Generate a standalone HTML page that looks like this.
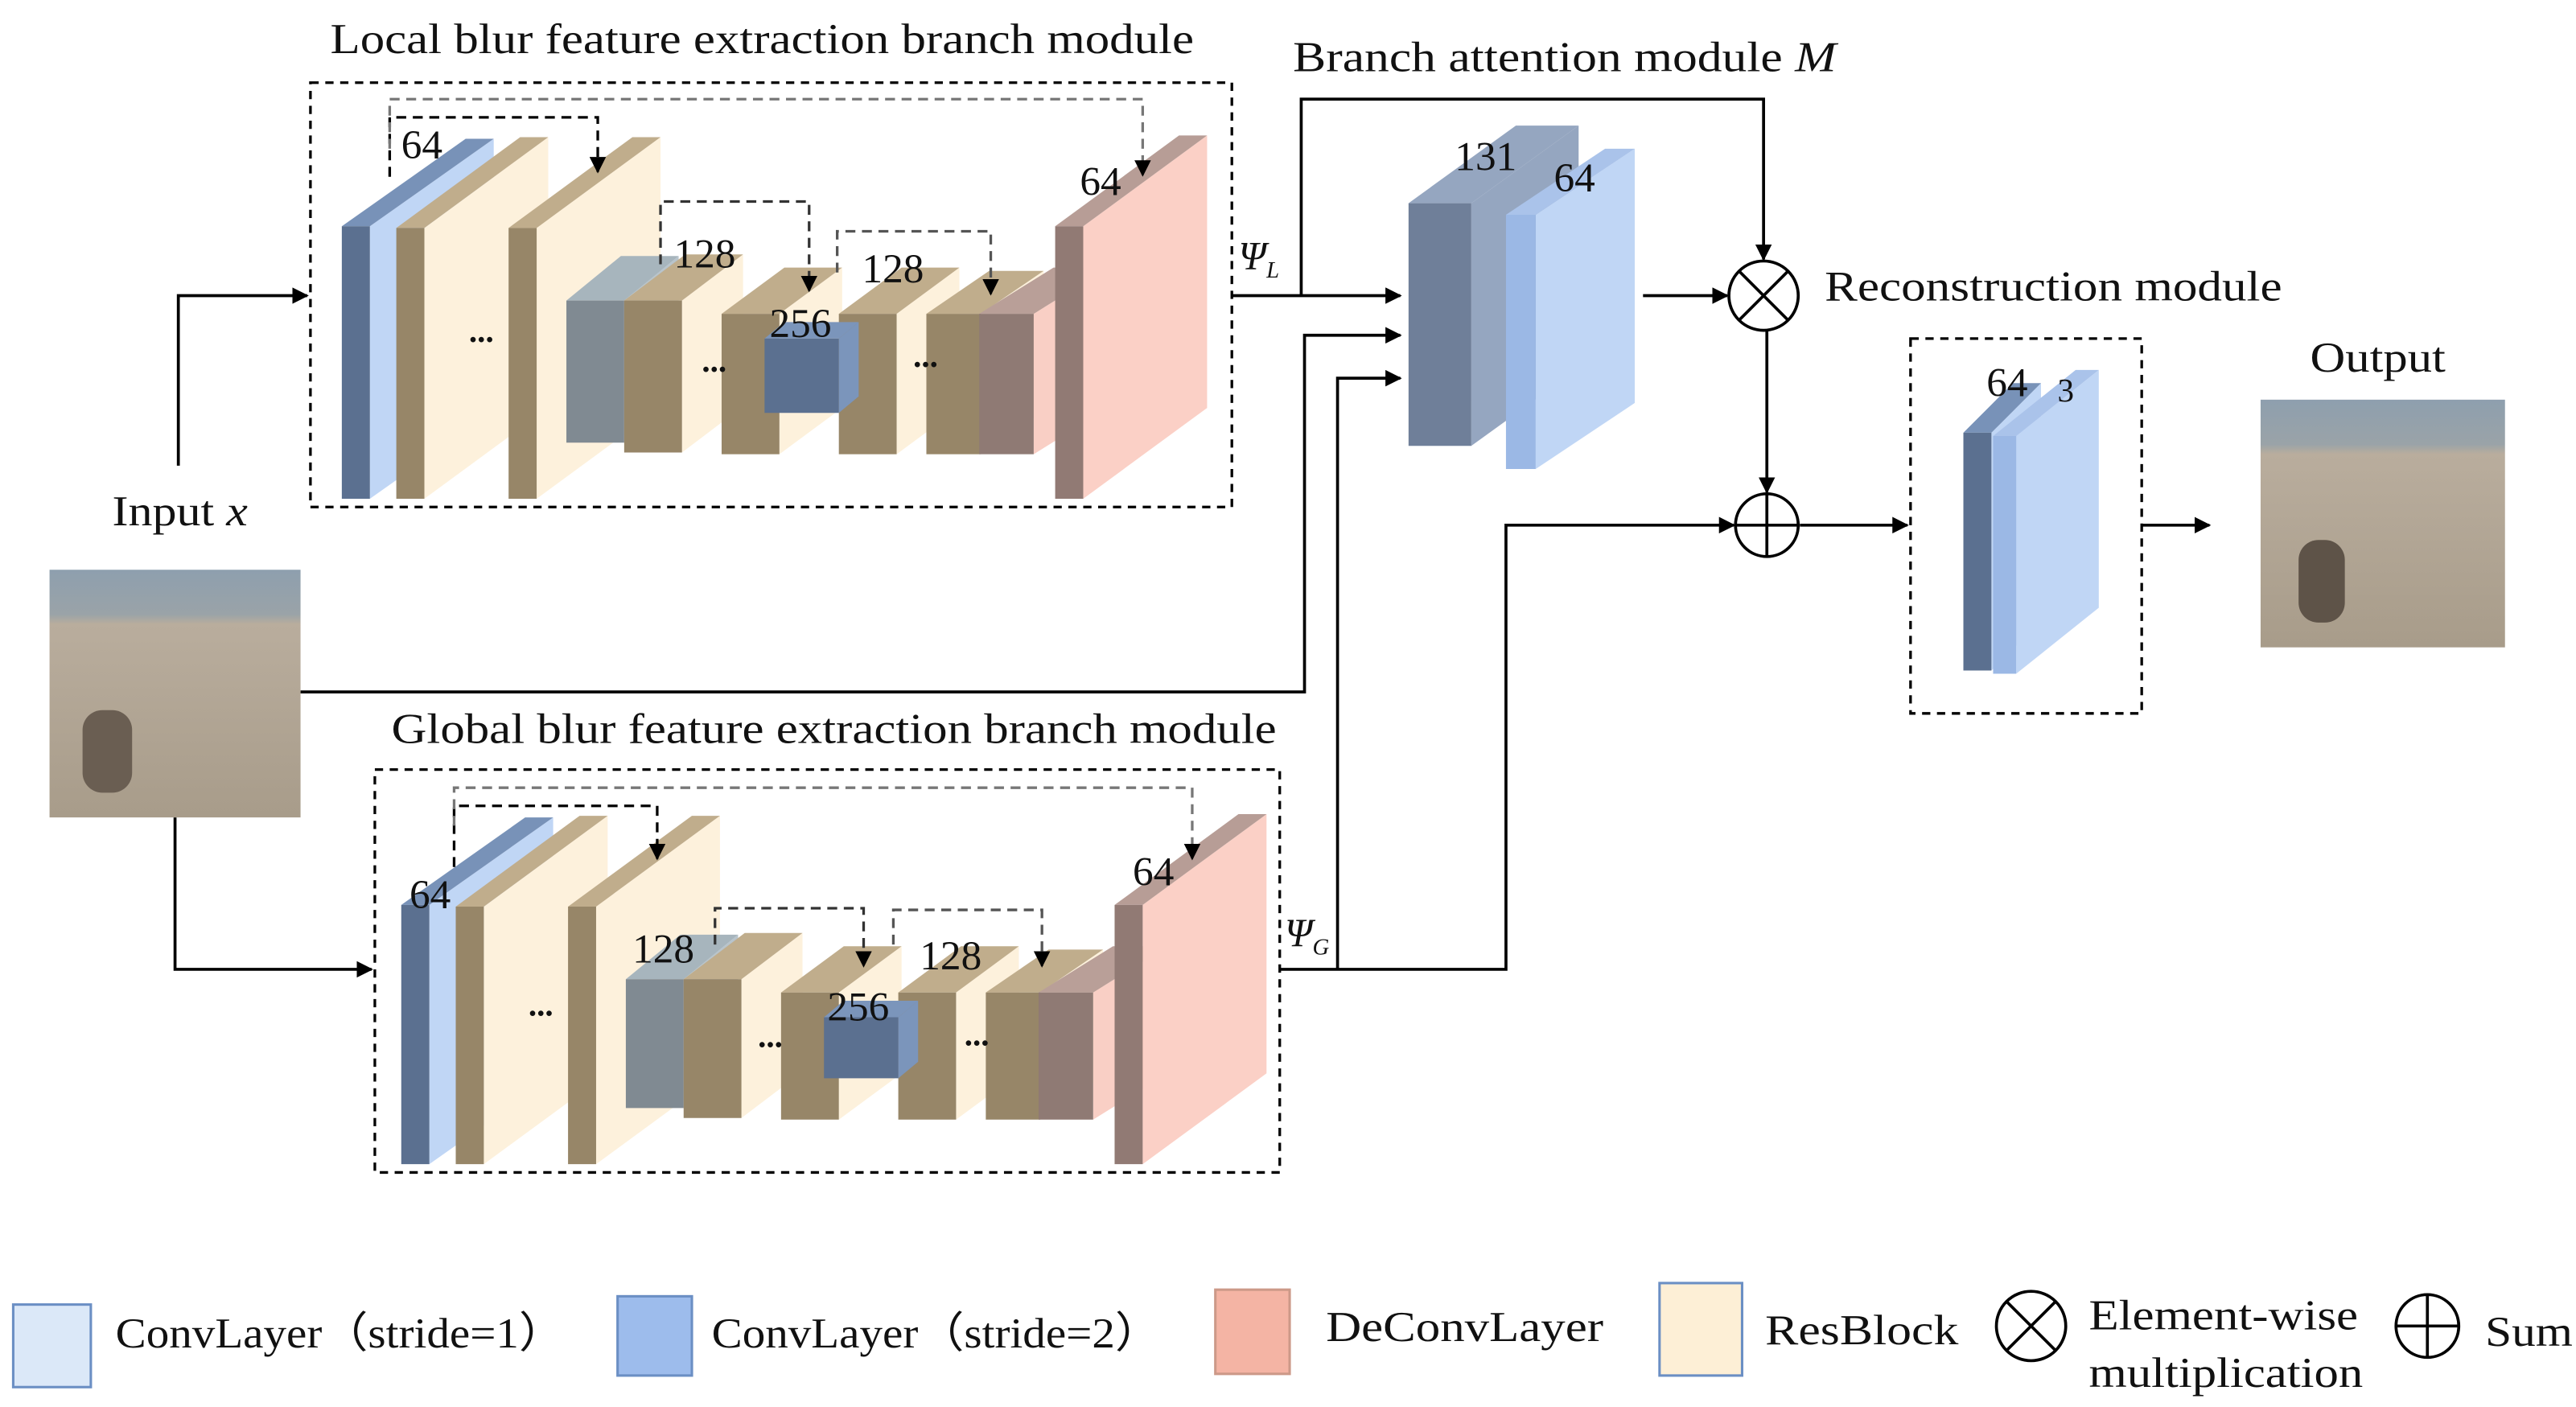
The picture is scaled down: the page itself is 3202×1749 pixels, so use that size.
<!DOCTYPE html>
<html><head><meta charset="utf-8"><style>
html,body{margin:0;padding:0;background:#fff;}
svg{display:block;}
text{font-family:"Liberation Serif",serif;fill:#111;}
</style></head><body>
<svg id="s" xmlns="http://www.w3.org/2000/svg" width="3202" height="1749" viewBox="0 0 1560 852">
<defs>
<marker id="a" markerWidth="10" markerHeight="10" refX="9" refY="5" orient="auto" markerUnits="userSpaceOnUse"><path d="M0,0 L10,5 L0,10 z" fill="#000"/></marker>
<linearGradient id="img" x1="0" y1="0" x2="0" y2="1">
<stop offset="0" stop-color="#8e9fae"/><stop offset="0.18" stop-color="#9aa3a8"/><stop offset="0.22" stop-color="#b9ad9d"/><stop offset="1" stop-color="#a89c8a"/></linearGradient>
</defs>
<g id="blocks"></g>
<g fill="none" stroke="#000" stroke-width="1.6" stroke-dasharray="5,4">
<rect x="188" y="50" width="558" height="257"/>
<rect x="227" y="466" width="548" height="244"/>
<rect x="1157" y="205" width="140" height="227"/>
</g>
<g fill="none" stroke-width="1.6" stroke-dasharray="6,4">
<path d="M236,107 V71 H362 V104" stroke="#000" marker-end="url(#a)"/>
<path d="M236,90 V60 H692 V106" stroke="#777" marker-end="url(#a)"/>
<path d="M400,160 V122 H490 V176" stroke="#333" marker-end="url(#a)"/>
<path d="M507,165 V140 H600 V178" stroke="#555" marker-end="url(#a)"/>
<path d="M275,525 V488 H398 V520" stroke="#000" marker-end="url(#a)"/>
<path d="M275,500 V477 H722 V520" stroke="#777" marker-end="url(#a)"/>
<path d="M433,572 V550 H523 V585" stroke="#333" marker-end="url(#a)"/>
<path d="M541,572 V551 H631 V585" stroke="#555" marker-end="url(#a)"/>
</g>
<g fill="none" stroke="#000" stroke-width="1.8">
<path d="M108,282 V179 H186" marker-end="url(#a)"/>
<path d="M106,495 V587 H225" marker-end="url(#a)"/>
<path d="M182,419 H790 V203 H848" marker-end="url(#a)"/>
<path d="M746,179 H848" marker-end="url(#a)"/>
<path d="M788,179 V60 H1068 V157" marker-end="url(#a)"/>
<path d="M775,587 H912 V318 H1050" marker-end="url(#a)"/>
<path d="M810,587 V229 H848" marker-end="url(#a)"/>
<path d="M995,179 H1046" marker-end="url(#a)"/>
<path d="M1070,200 V298" marker-end="url(#a)"/>
<path d="M1090,318 H1155" marker-end="url(#a)"/>
<path d="M1297,318 H1338" marker-end="url(#a)"/>
<circle cx="1068" cy="179" r="21"/><path d="M1053,164 L1083,194 M1083,164 L1053,194"/>
<circle cx="1070" cy="318" r="19"/><path d="M1051,318 H1089 M1070,299 V337"/>
<circle cx="1230" cy="803" r="21"/><path d="M1215,788 L1245,818 M1245,788 L1215,818"/>
<circle cx="1470" cy="803" r="19"/><path d="M1451,803 H1489 M1470,784 V822"/>
</g>
<g>
<rect x="30" y="345" width="152" height="150" fill="url(#img)"/>
<rect x="50" y="430" width="30" height="50" rx="12" fill="#6a5e52"/>
<rect x="1369" y="242" width="148" height="150" fill="url(#img)"/>
<rect x="1392" y="327" width="28" height="50" rx="12" fill="#5e5348"/>
</g>
<g font-size="26">
<text x="200" y="32" textLength="523" lengthAdjust="spacingAndGlyphs">Local blur feature extraction branch module</text>
<text x="783" y="43" textLength="329" lengthAdjust="spacingAndGlyphs">Branch attention module <tspan font-style="italic">M</tspan></text>
<text x="1105" y="182" textLength="277" lengthAdjust="spacingAndGlyphs">Reconstruction module</text>
<text x="1399" y="225" textLength="82" lengthAdjust="spacingAndGlyphs">Output</text>
<text x="68" y="318" textLength="82" lengthAdjust="spacingAndGlyphs">Input <tspan font-style="italic">x</tspan></text>
<text x="237" y="450" textLength="536" lengthAdjust="spacingAndGlyphs">Global blur feature extraction branch module</text>
<g font-size="25">
<text x="243" y="96">64</text><text x="408" y="162">128</text><text x="466" y="204">256</text><text x="522" y="171">128</text><text x="654" y="118">64</text>
<text x="248" y="550">64</text><text x="383" y="583">128</text><text x="501" y="618">256</text><text x="557" y="587">128</text><text x="686" y="536">64</text>
<text x="881" y="103">131</text><text x="941" y="116">64</text>
<text x="1203" y="240">64</text><text x="1246" y="243" font-size="20">3</text>
</g>
<text x="750" y="163" font-style="italic" font-size="24">Ψ<tspan font-size="14" dy="5">L</tspan></text>
<text x="778" y="573" font-style="italic" font-size="24">Ψ<tspan font-size="14" dy="5">G</tspan></text>
<g font-weight="bold" font-size="20"><text x="284" y="207">...</text><text x="425" y="225">...</text><text x="553" y="222">...</text>
<text x="320" y="615">...</text><text x="459" y="634">...</text><text x="584" y="633">...</text></g>
<text x="70" y="816" textLength="272" lengthAdjust="spacingAndGlyphs">ConvLayer（stride=1）</text>
<text x="431" y="816" textLength="272" lengthAdjust="spacingAndGlyphs">ConvLayer（stride=2）</text>
<text x="803" y="812" textLength="168" lengthAdjust="spacingAndGlyphs">DeConvLayer</text>
<text x="1069" y="814" textLength="117" lengthAdjust="spacingAndGlyphs">ResBlock</text>
<text x="1265" y="805" textLength="163" lengthAdjust="spacingAndGlyphs">Element-wise</text>
<text x="1265" y="840" textLength="166" lengthAdjust="spacingAndGlyphs">multiplication</text>
<text x="1505" y="815" textLength="53" lengthAdjust="spacingAndGlyphs">Sum</text>
</g>
<g stroke-width="1.5">
<rect x="8" y="790" width="47" height="50" fill="#dbe8f8" stroke="#6b8fc4"/>
<rect x="374" y="785" width="45" height="48" fill="#9dbcec" stroke="#6b8fc4"/>
<rect x="736" y="781" width="45" height="51" fill="#f4b4a4" stroke="#c98"/>
<rect x="1005" y="777" width="50" height="56" fill="#fdefd6" stroke="#6b8fc4"/>
</g>
</svg>
<script>
var C={blue:['#5b7090','#c0d6f5','#7892b8'],beige:['#978668','#fdf1dc','#c0ad8c'],grey:['#808a92','#b8c4cc','#a7b5bd'],dblue:['#5b7090','#7b95bb','#7b95bb'],mauve:['#8f7a74','#f9cfc5','#b99f98'],pink:['#917a74','#fbd0c6','#b79d96'],att:['#6f7f99','#95a6c0','#95a6c0'],lb:['#9bb8e5','#c0d6f5','#aac3ea']};
var B=[['blue',207,17,137,302,75,53],['beige',240,17,138,302,75,55],['beige',308,17,138,302,75,55],['grey',343,35,182,268,33,27],['beige',378,35,182,274,37,28],['beige',437,35,190,275,38,28],['beige',508,35,190,275,38,28],['dblue',463,45,205,250,12,10],['beige',561,33,190,275,38,26],['mauve',593,33,190,275,45,28],['pink',639,17,137,302,75,55]];
var g=document.getElementById('blocks'),ns='http://www.w3.org/2000/svg';
function poly(p,f){var e=document.createElementNS(ns,'polygon');e.setAttribute('points',p.map(function(q){return q.join(',')}).join(' '));e.setAttribute('fill',f);g.appendChild(e);}
function blk(c,x,w,yt,yb,dx,dy){var k=C[c];
poly([[x+w,yt],[x+w+dx,yt-dy],[x+w+dx,yb-dy],[x+w,yb]],k[1]);
poly([[x,yt],[x+w,yt],[x+w+dx,yt-dy],[x+dx,yt-dy]],k[2]);
poly([[x,yt],[x+w,yt],[x+w,yb],[x,yb]],k[0]);}
var all=[];
B.forEach(function(b){all.push(b);});
B.forEach(function(b){var n=b.slice();n[1]=b[1]+36;n[3]=b[3]+411;n[4]=b[4]+403;all.push(n);});
all.push(['att',853,38,123,270,65,47]);all.push(['lb',912,18,130,284,60,40]);
all.push(['blue',1189,17,262,406,30,30]);all.push(['lb',1207,14,264,408,50,40]);
all.forEach(function(b){blk.apply(null,b);});
</script>
</body></html>
